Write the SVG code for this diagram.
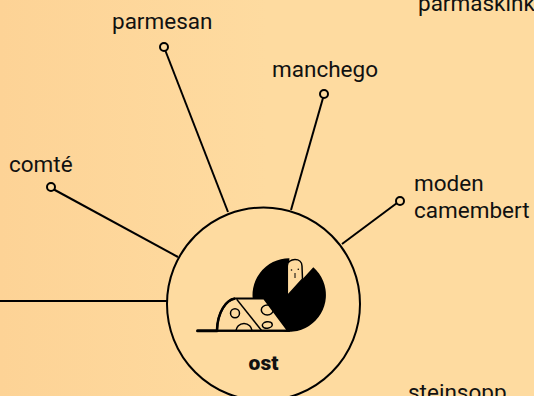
<svg xmlns="http://www.w3.org/2000/svg" width="534" height="396" viewBox="0 0 534 396">
<style>
text{font-family:Roboto,"Liberation Sans",sans-serif;font-size:22.500px;fill:#111}
.c{fill:none;stroke:#000;stroke-width:2}
.d{fill:#fedba0;stroke:#000;stroke-width:2}
.h{fill:none;stroke:#000;stroke-width:1.500}
</style>
<defs>
<linearGradient id="bg" x1="0" x2="1" y1="0" y2="0"><stop offset="0" stop-color="#fdd396"/><stop offset="0.5" stop-color="#fedba0"/><stop offset="1" stop-color="#fedba0"/></linearGradient>
<clipPath id="w"><path d="M217,330V326C218,310 226,300 235,299H264L288,330Z"/></clipPath>
</defs>
<rect width="534" height="396" fill="url(#bg)"/>
<g id="connectors">
<path class="c" d="M0,301H167"/>
<path class="c" d="M53,189L178,257"/>
<path class="c" d="M165.500,51L228,212"/>
<path class="c" d="M323,98L291,210"/>
<path class="c" d="M397,203L342,244"/>
</g>
<g id="ost">
<circle class="d" cx="263.500" cy="304" r="96.500"/>
<path fill="#000" d="M287.300,295.700L313.300,267.300A36.700,36.700 0 1 1 289.400,258.300Z"/>
<path fill="#fedba0" stroke="#000" stroke-width="1.500" d="M287.300,295.700V266C287.300,262 291,259.500 295,259.500C299,259.500 302,262 302,266L302.500,279Z"/>
<circle cx="291.500" cy="270" r=".8"/><circle cx="298.300" cy="269.300" r=".8"/><path d="M295,273V278" stroke="#000" stroke-width="1"/>
<path d="M217,330.700C217.500,312 226,300 235,298.500H264L288,330.700H217Z" fill="#fedba0" stroke="#000" stroke-width="2"/>
<path d="M217,330C217.500,312 226,300 235,298.500" fill="none" stroke="#000" stroke-width="2.500"/>
<g clip-path="url(#w)">
<path class="h" d="M236.700,299.300L261.700,330.700"/>
<circle class="h" cx="235" cy="313.300" r="4.500"/>
<ellipse class="h" cx="267.300" cy="310" rx="6" ry="5"/>
<ellipse class="h" cx="267.300" cy="325" rx="5" ry="3.200" transform="rotate(-8 267.300 325)"/>
<circle class="h" cx="244" cy="331.500" r="8"/>
</g>
<path d="M197.500,330.700H217" stroke="#000" stroke-width="3" stroke-linecap="round"/>
<path d="M217,330.700H290" stroke="#000" stroke-width="2"/>
<text x="263.500" y="370" text-anchor="middle" style="font-weight:900;font-size:21px">ost</text>
</g>
<g id="parmesan"><circle class="d" cx="164" cy="47" r="4"/><text x="112" y="29">parmesan</text></g>
<g id="manchego"><circle class="d" cx="324" cy="94" r="4"/><text x="272" y="77">manchego</text></g>
<g id="comte"><circle class="d" cx="51" cy="187" r="4"/><text x="9" y="172">comté</text></g>
<g id="moden-camembert"><circle class="d" cx="400" cy="201" r="4"/><text x="414" y="191">moden</text><text x="414" y="218">camembert</text></g>
<g id="parmaskinke"><text x="418" y="11">parmaskinke</text></g>
<g id="steinsopp"><text x="408" y="400">steinsopp</text></g>
</svg>
